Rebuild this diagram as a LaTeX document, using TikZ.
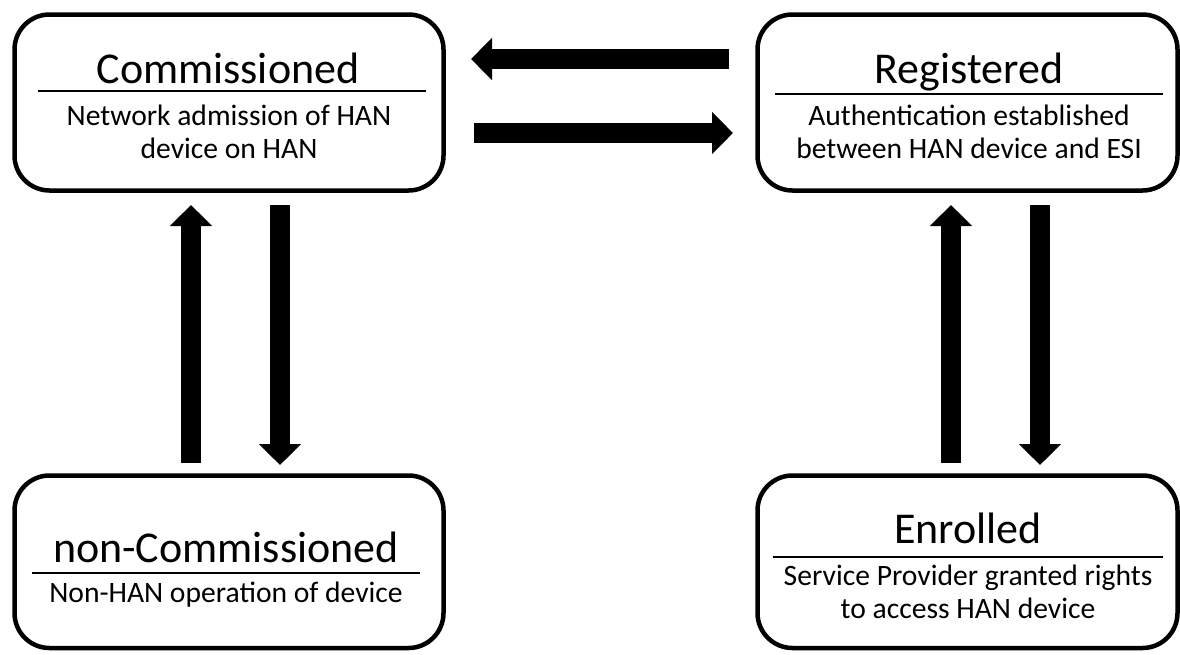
\documentclass[tikz,border=0pt]{standalone}
\usepackage{fontspec}
\setmainfont{Carlito}
\usetikzlibrary{arrows.meta,positioning}
\tikzset{
    statebox/.style={draw, line width=4.5pt, rounded corners=35pt, inner sep=0pt},
    titletext/.style={anchor=base, inner sep=0pt, font=\fontsize{44}{53}\selectfont},
    bodytext/.style={anchor=base, inner sep=0pt, align=center, font=\fontsize{29.6}{33}\selectfont},
    sepline/.style={line width=1.8pt},
    fatarrow/.style={line width=20pt, -{Triangle[width=41pt,length=21pt]}}
}
\begin{document}
\begin{tikzpicture}[x=1pt,y=-1pt] %Estados del dispositivo HAN
            \useasboundingbox (0,0) rectangle (1180,654);

            \node[statebox, minimum width=429pt, minimum height=176pt] (comm) at (229,102.5) {};
            \node[statebox, minimum width=420pt, minimum height=176pt] (reg) at (967.5,102.5) {};
            \node[statebox, minimum width=429pt, minimum height=172.5pt] (noncomm) at (229,561.75) {};
            \node[statebox, minimum width=420pt, minimum height=172.5pt] (enr) at (967.5,561.75) {};

            % los nodos de dos lineas van por la base de la ultima linea
            \node[titletext] (commtitle) at (228,83) {Commissioned};
            \node[bodytext] (commbody) at (229,158) {Network admission of HAN\\device on HAN};
            \node[titletext] (regtitle) at (969,83) {Registered};
            \node[bodytext] (regbody) at (969,158) {Authentication established\\between HAN device and ESI};
            \node[titletext] (noncommtitle) at (226,562) {non-Commissioned};
            \node[bodytext] (noncommbody) at (226,602) {Non-HAN operation of device};
            \node[titletext] (enrtitle) at (968,543) {Enrolled};
            \node[bodytext] (enrbody) at (968,618) {Service Provider granted rights\\to access HAN device};

            \coordinate (A1) at (38,90.7);
            \coordinate (A2) at (426,90.7);
            \coordinate (B1) at (775,94);
            \coordinate (B2) at (1163,94);
            \coordinate (C1) at (32,573);
            \coordinate (C2) at (420,573);
            \coordinate (D1) at (773,556.7);
            \coordinate (D2) at (1163,556.7);

            \draw[sepline] (A1) -- (A2);
            \draw[sepline] (B1) -- (B2);
            \draw[sepline] (C1) -- (C2);
            \draw[sepline] (D1) -- (D2);

            \coordinate (E) at (729,59);
            \coordinate (F) at (471,59);
            \coordinate (G) at (474,133);
            \coordinate (H) at (733,133);

            \coordinate (I) at (191,463);
            \coordinate (J) at (191,205);
            \coordinate (K) at (280,205);
            \coordinate (L) at (280,465);

            \coordinate (M) at (951,463);
            \coordinate (N) at (951,205);
            \coordinate (O) at (1040,205);
            \coordinate (P) at (1040,465);

            \draw[fatarrow] (E) -- (F);
            \draw[fatarrow] (G) -- (H);
            \draw[fatarrow] (I) -- (J);
            \draw[fatarrow] (K) -- (L);
            \draw[fatarrow] (M) -- (N);
            \draw[fatarrow] (O) -- (P);
\end{tikzpicture}
\end{document}
